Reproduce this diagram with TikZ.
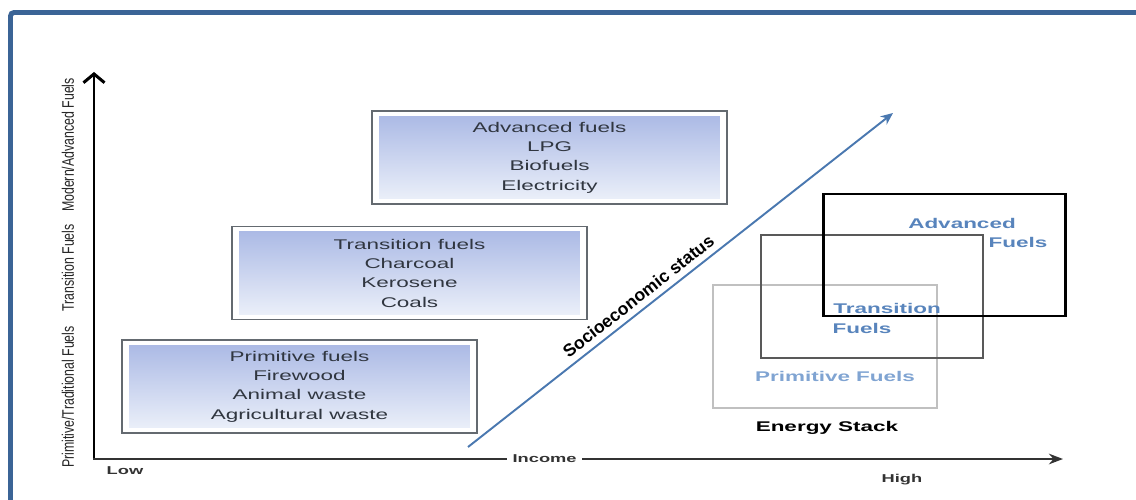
\documentclass[tikz,border=0pt]{standalone}
\usepackage{fontspec}
\setmainfont{Liberation Sans}
\newfontfamily\widesans[FakeStretch=1.6]{Liberation Sans}
\newfontfamily\narrowsans[FakeStretch=0.74]{Liberation Sans}
\usetikzlibrary{arrows.meta}
\definecolor{frameblue}{RGB}{59,100,150}
\definecolor{statusblue}{RGB}{74,120,176}
\definecolor{boxgray}{RGB}{100,106,112}
\definecolor{boxtext}{RGB}{48,54,64}
\definecolor{shadetop}{RGB}{168,183,228}
\definecolor{shadebot}{RGB}{238,242,250}
\definecolor{labblue}{RGB}{88,132,188}
\definecolor{labpale}{RGB}{128,164,210}
\definecolor{stackpale}{RGB}{192,192,192}

\begin{document}
\begin{tikzpicture}[x=0.02cm,y=-0.02cm,
    fuelbox/.style={draw=boxgray,line width=1.1pt,fill=white,
        minimum width=7.1cm,minimum height=1.86cm,align=center,text=boxtext,
        font=\fontsize{8}{11}\selectfont\widesans,
        path picture={\shade[top color=shadetop,bottom color=shadebot]
            ([shift={(0.14cm,-0.1cm)}]path picture bounding box.north west) rectangle
            ([shift={(-0.14cm,0.1cm)}]path picture bounding box.south east);}},
    ylab/.style={rotate=90,text=black!85,font=\fontsize{9.5}{10}\selectfont\narrowsans},
    axlab/.style={text=black!80,font=\bfseries\fontsize{6.5}{8}\selectfont\widesans},
    stacklab/.style={text=labblue,font=\bfseries\fontsize{8}{10}\selectfont\widesans},
    axis/.style={line width=1.7pt}]
    \useasboundingbox (0,0) rectangle (1136,500);

    % frame
    \draw[frameblue,line width=2.8pt,rounded corners=2pt] (10.5,500) |- (1136,12.5);

    % axes
    \coordinate (origin) at (94,459);
    \coordinate (ytop) at (94,72);
    \coordinate (xend) at (1063,459);
    \draw[axis,-{Straight Barb[length=5pt,width=12pt]}] (origin) -- (ytop);
    \draw[axis,draw=black!80,line cap=rect,-{Stealth[length=8pt,width=6pt]}] (origin) -- (xend)
        node[pos=0.465,fill=white,inner sep=3pt,axlab] (income) {Income};
    \node[axlab] (low) at (125,471) {Low};
    \node[axlab] (high) at (902,480) {High};

    \node[ylab] (ymodern) at (68,145) {Modern/Advanced Fuels};
    \node[ylab] (ytransition) at (68,268) {Transition Fuels};
    \node[ylab] (yprimitive) at (68,397) {Primitive/Traditional Fuels};

    % fuel ladder
    \node[fuelbox] (primitive) at (299.5,386.5) {Primitive fuels\\Firewood\\Animal waste\\Agricultural waste};
    \node[fuelbox] (transition) at (409.5,273) {Transition fuels\\Charcoal\\Kerosene\\Coals};
    \node[fuelbox] (advanced) at (549.5,157.5) {Advanced fuels\\LPG\\Biofuels\\Electricity};

    \coordinate (sstart) at (468,447);
    \coordinate (send) at (893,113);
    \draw[statusblue,line width=1.1pt,-{Stealth[length=7pt,width=6pt]}] (sstart) -- (send)
        node[pos=0.42,above=0pt,sloped,text=black,font=\bfseries\fontsize{10}{12}\selectfont] (status) {Socioeconomic status};

    % energy stack
    \draw[stackpale,line width=0.9pt] (713,285) rectangle (937,408);
    \draw[black!65,line width=1.4pt] (761,235) rectangle (983,358);
    \draw[black,line width=1.7pt] (823,194) rectangle (1065,316);

    \node[stacklab] (advlab) at (962,223) {Advanced};
    \node[stacklab] (advfuels) at (1018,242) {Fuels};
    \node[stacklab] (tralab) at (887,308) {Transition};
    \node[stacklab] (trafuels) at (862,328) {Fuels};
    \node[stacklab,text=labpale] (primlab) at (835,376) {Primitive Fuels};
    \node[stacklab,text=black] (stack) at (827,428) {Energy Stack};
\end{tikzpicture}
\end{document}
